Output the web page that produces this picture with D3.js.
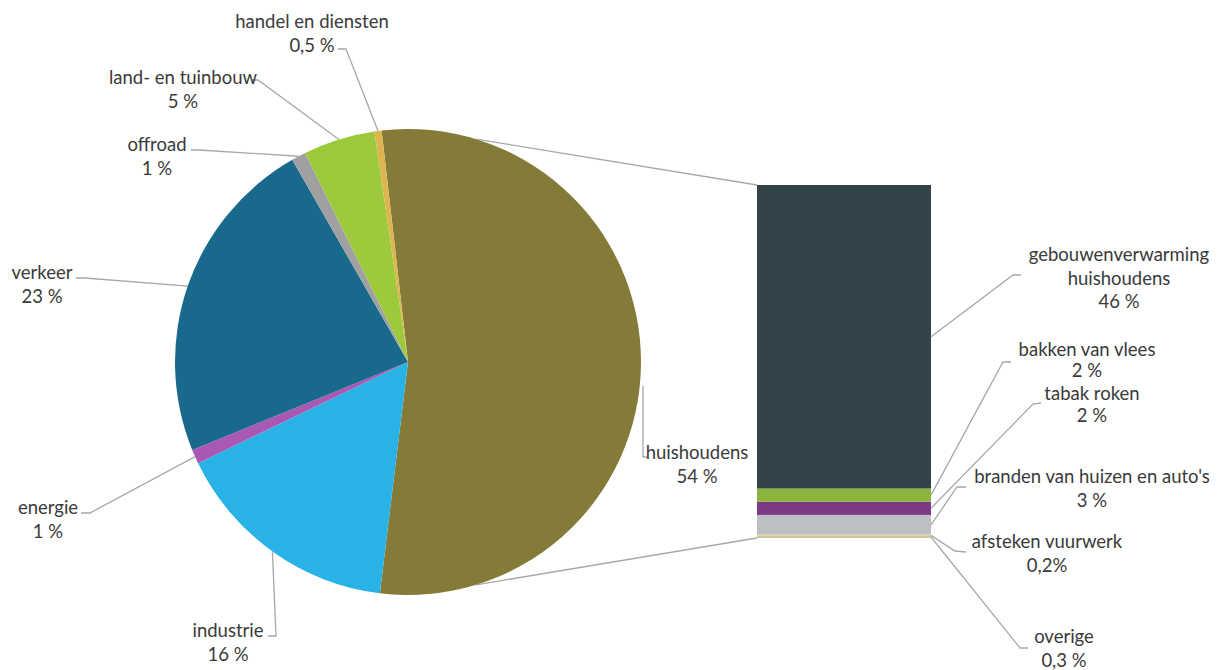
<!DOCTYPE html>
<html>
<head>
<meta charset="utf-8">
<script src="https://cdn.jsdelivr.net/npm/d3@7"></script>
<style>
  html, body { margin: 0; padding: 0; background: #ffffff; }
  svg { display: block; }
  text { font-family: Lato, "Open Sans", sans-serif; font-size: 18.5px; fill: #3a3a3a; }
</style>
</head>
<body>
<svg id="chart" width="1230" height="670"></svg>
<script>
// Emission sources (pie) — percentages
const pieCategories = ["huishoudens", "industrie", "energie", "verkeer", "offroad", "land- en tuinbouw", "handel en diensten"];
const pieValues     = [54, 16, 1, 23, 1, 5, 0.5];
const pieValueLabels = ["54 %", "16 %", "1 %", "23 %", "1 %", "5 %", "0,5 %"];
const pieColors     = ["#857b39", "#29b2e6", "#a959b3", "#19698c", "#a0a0a2", "#9dca3c", "#dcb550"];

// Breakdown of households (stacked bar, bottom to top)
const barCategories = ["overige", "afsteken vuurwerk", "branden van huizen en auto's", "tabak roken", "bakken van vlees", "gebouwenverwarming huishoudens"];
const barValues     = [0.3, 0.2, 3, 2, 2, 46];
const barValueLabels = ["0,3 %", "0,2%", "3 %", "2 %", "2 %", "46 %"];
const barColors     = ["#cdc39c", "#e2d6a6", "#bdc0c2", "#7d3a84", "#8cb43c", "#324449"];

const svg = d3.select("#chart");
const lineColor = "#a8a8a8";

// ---- Pie ----
const cx = 408, cy = 362, R = 233;
const deg = Math.PI / 180;
const pie = d3.pie().sort(null).value(d => d.value).startAngle(-6.5 * deg).endAngle(353.5 * deg);
const pieData = pieCategories.map((c, i) => ({ name: c, value: pieValues[i], label: pieValueLabels[i], color: pieColors[i] }));
const arcs = pie(pieData);
const arc = d3.arc().innerRadius(0).outerRadius(R);

const gPie = svg.append("g").attr("transform", `translate(${cx},${cy})`);
gPie.selectAll("path").data(arcs).join("path")
  .attr("d", arc)
  .attr("fill", d => d.data.color);

const edgePoint = (a, r = R) => [cx + r * Math.sin(a), cy - r * Math.cos(a)];

// ---- Stacked bar ----
const barX = 757, barW = 174;
const total = d3.sum(barValues);
const y = d3.scaleLinear().domain([0, total]).range([538, 185]);
let acc = 0;
const barData = barCategories.map((c, i) => {
  const d = { name: c, value: barValues[i], label: barValueLabels[i], color: barColors[i], y0: acc, y1: acc + barValues[i] };
  acc += barValues[i];
  return d;
});
svg.append("g").selectAll("rect").data(barData).join("rect")
  .attr("x", barX)
  .attr("width", barW)
  .attr("y", d => y(d.y1))
  .attr("height", d => y(d.y0) - y(d.y1))
  .attr("fill", d => d.color);

// ---- Connector lines between pie and bar ----
const conn = svg.append("g").attr("stroke", lineColor).attr("stroke-width", 1.3).attr("fill", "none");
const connTop = edgePoint(17 * deg), connBot = edgePoint(163 * deg);
conn.append("line").attr("x1", connTop[0]).attr("y1", connTop[1]).attr("x2", barX).attr("y2", y(total));
conn.append("line").attr("x1", connBot[0]).attr("y1", connBot[1]).attr("x2", barX).attr("y2", y(0));

// ---- Label layout: text centre, line spacing and leader elbows ----
const pieLabelLayout = {
  "huishoudens":        { x: 697, y: 453, elbow: [[647, 457], [643, 457]], end: [643, 386] },
  "industrie":          { x: 228, y: 631, elbow: [[268, 636], [276, 636]] },
  "energie":            { x: 48,  y: 508, elbow: [[81, 513], [90, 513]] },
  "verkeer":            { x: 42,  y: 273, elbow: [[76, 278], [85, 278]] },
  "offroad":            { x: 157, y: 145, elbow: [[191, 150], [199, 150]] },
  "land- en tuinbouw":  { x: 183, y: 78,  elbow: [[251, 80], [258, 80]] },
  "handel en diensten": { x: 312, y: 22,  elbow: [[338, 49], [346, 49]] }
};

const barLabelLayout = {
  "gebouwenverwarming huishoudens": { x: 1119, y: 255, lines: ["gebouwenverwarming", "huishoudens"], elbow: [[1021, 275], [1013, 275]] },
  "bakken van vlees":               { x: 1087, y: 350, gap: 21, elbow: [[1011, 362], [1003, 362]] },
  "tabak roken":                    { x: 1092, y: 394, gap: 22, elbow: [[1041, 403], [1033, 404]] },
  "branden van huizen en auto's":   { x: 1092, y: 477, elbow: [[966, 487], [957, 487]] },
  "afsteken vuurwerk":              { x: 1047, y: 542, elbow: [[966, 552], [955, 551]] },
  "overige":                        { x: 1064, y: 637, elbow: [[1028, 648], [1020, 648]] }
};

const lineH = 23.5;
const leaders = svg.append("g").attr("stroke", lineColor).attr("stroke-width", 1.3).attr("fill", "none");
const labels = svg.append("g");

function drawLabel(lines, lay) {
  const gap = lay.gap || lineH;
  lines.forEach((t, i) => {
    labels.append("text")
      .attr("x", lay.x)
      .attr("y", lay.y + i * gap)
      .attr("dy", "0.35em")
      .attr("text-anchor", "middle")
      .text(t);
  });
}

arcs.forEach(a => {
  const lay = pieLabelLayout[a.data.name];
  drawLabel([a.data.name, a.data.label], lay);
  const mid = (a.startAngle + a.endAngle) / 2;
  const end = lay.end || edgePoint(mid);
  leaders.append("path").attr("d", d3.line()([...lay.elbow, end]));
});

barData.forEach(d => {
  const lay = barLabelLayout[d.name];
  const lines = (lay.lines || [d.name]).concat([d.label]);
  drawLabel(lines, lay);
  const end = [barX + barW, (y(d.y0) + y(d.y1)) / 2];
  leaders.append("path").attr("d", d3.line()([...lay.elbow, end]));
});
</script>
</body>
</html>
